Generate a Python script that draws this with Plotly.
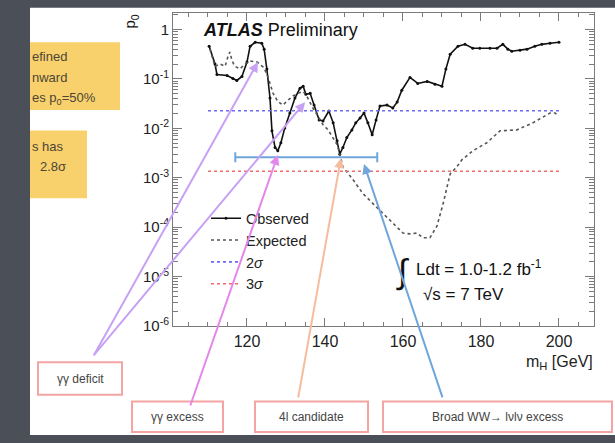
import plotly.graph_objects as go

W, H = 615, 443
FONT = "Liberation Sans, Arial, Helvetica, sans-serif"

# ---------------- data ----------------
OBS_MASS = [110.3, 111.8, 112.3, 114.9, 116.4, 117.4, 118.7, 120.0, 120.8, 122.1,
            123.8, 124.4, 125.1, 125.9, 126.4, 127.2, 127.9, 128.7, 129.7, 131.0,
            132.3, 133.6, 134.4, 135.1, 136.2, 137.2, 138.5, 139.5, 141.0, 142.1,
            143.1, 143.8, 144.6, 145.6, 146.9, 147.9, 149.0, 150.0, 151.0, 152.1,
            153.1, 154.1, 155.9, 157.4, 158.5, 159.7, 161.8, 163.8, 166.2, 168.2,
            170.0, 171.0, 172.1, 174.1, 175.9, 177.9, 179.7, 182.3, 184.1, 185.6,
            186.9, 187.9, 190.0, 191.8, 193.8, 195.6, 197.7, 200.0]
OBS_P0 = [0.457, 0.20, 0.123, 0.117, 0.102, 0.093, 0.112, 0.219, 0.457, 0.55,
          0.525, 0.40, 0.158, 0.041, 0.0089, 0.0041, 0.0035, 0.0051, 0.0102, 0.0204,
          0.041, 0.065, 0.071, 0.049, 0.051, 0.0295, 0.0148, 0.0141, 0.0224, 0.0129,
          0.0056, 0.0030, 0.0041, 0.0065, 0.0093, 0.0129, 0.0162, 0.0204, 0.0129, 0.0074,
          0.0148, 0.0282, 0.0295, 0.0257, 0.0339, 0.059, 0.107, 0.081, 0.089, 0.078,
          0.071, 0.158, 0.316, 0.457, 0.50, 0.417, 0.417, 0.417, 0.417, 0.50,
          0.40, 0.363, 0.38, 0.40, 0.457, 0.50, 0.525, 0.55]

EXP_MASS = [110.5, 111.8, 113.1, 114.4, 115.1, 115.6, 116.2, 116.9, 118.2, 119.5,
            120.8, 122.6, 124.1, 125.1, 125.9, 126.7, 127.9, 129.2, 130.5, 131.8,
            133.1, 134.4, 135.6, 136.9, 138.2, 139.5, 140.8, 142.1, 143.1, 143.8,
            144.6, 147.2, 149.7, 152.3, 154.9, 157.4, 160.0, 161.8, 163.6, 165.1,
            166.9, 168.7, 170.3, 172.1, 173.8, 175.1, 177.9, 181.5, 184.9, 189.2,
            193.3, 197.7, 199.0, 200.0]
EXP_P0 = [0.40, 0.18, 0.20, 0.18, 0.28, 0.35, 0.23, 0.18, 0.16, 0.20,
          0.23, 0.22, 0.175, 0.128, 0.081, 0.051, 0.035, 0.0295, 0.037, 0.045,
          0.051, 0.056, 0.041, 0.0257, 0.0178, 0.0118, 0.0093, 0.0065, 0.0047, 0.0030,
          0.00166, 0.00091, 0.00048, 0.00030, 0.00019, 0.00012, 7.6e-5, 7.3e-5, 7.6e-5, 6.1e-5,
          6.1e-5, 1.05e-4, 3.0e-4, 1.2e-3, 1.66e-3, 2.3e-3, 3.5e-3, 5.1e-3, 8.9e-3, 9.3e-3,
          0.0129, 0.0204, 0.0204, 0.0178]

SIGMA_MASS = [110, 200]
P0_2SIGMA = 0.02275
P0_3SIGMA = 0.00135

# broad WW mass window bracket (centre, half-width, p0 level)
WW_CENTER = [135.2]
WW_HALFWIDTH = [18.2]
WW_LEVEL = [0.0026]

X_TICKS = [120, 140, 160, 180, 200]
Y_TICKS = [1e-6, 1e-5, 1e-4, 1e-3, 1e-2, 1e-1, 1]
Y_TICK_TEXT = ["10<sup>-6</sup>", "10<sup>-5</sup>", "10<sup>-4</sup>", "10<sup>-3</sup>",
               "10<sup>-2</sup>", "10<sup>-1</sup>", "1"]
Y_MINOR = [k * 10.0 ** e for e in range(-6, 1) for k in range(2, 10) if k * 10.0 ** e < 2.2]

# call-out arrows: tip (mass, log10 p0), tail offset in pixels
ARROWS = [
    dict(m=122.8, lp=-0.66, ax=-165, ay=295, color="#c7a1f4"),   # γγ deficit
    dict(m=134.9, lp=-1.47, ax=-212, ay=254, color="#c7a1f4"),   # γγ deficit
    dict(m=127.9, lp=-2.54, ax=-88, ay=252, color="#e487ea"),    # γγ excess
    dict(m=144.1, lp=-2.60, ax=-43, ay=241, color="#f6bc9f"),    # 4l candidate
    dict(m=150.0, lp=-2.72, ax=79, ay=235, color="#6fa6dc"),     # broad WW
]


def px(x):
    return x / W


def py(y):
    return 1 - y / H


fig = go.Figure()

fig.add_trace(go.Scatter(x=OBS_MASS, y=OBS_P0, mode="lines+markers", name="Observed",
                         line=dict(color="#111111", width=1.6),
                         marker=dict(size=3, color="#111111")))
fig.add_trace(go.Scatter(x=EXP_MASS, y=EXP_P0, mode="lines", name="Expected",
                         line=dict(color="#555555", width=1.6, dash="dot")))
fig.add_trace(go.Scatter(x=SIGMA_MASS, y=[P0_2SIGMA] * 2, mode="lines", name="2<i>σ</i>",
                         line=dict(color="#6b6cf2", width=1.6, dash="dot")))
fig.add_trace(go.Scatter(x=SIGMA_MASS, y=[P0_3SIGMA] * 2, mode="lines", name="3<i>σ</i>",
                         line=dict(color="#f26b6b", width=1.6, dash="dot")))
fig.add_trace(go.Scatter(x=WW_CENTER, y=WW_LEVEL, mode="markers", showlegend=False,
                         marker=dict(size=1, color="rgba(0,0,0,0)"),
                         error_x=dict(type="data", array=WW_HALFWIDTH, color="#6fa6dc",
                                      thickness=2, width=5)))

shapes = [
    # white slide panel
    dict(type="rect", xref="paper", yref="paper", x0=px(30), x1=px(615), y0=py(443), y1=py(8),
         fillcolor="white", line=dict(width=0), layer="below"),
    # orange note boxes (cut by slide edge)
    dict(type="rect", xref="paper", yref="paper", x0=px(30), x1=px(120), y0=py(112), y1=py(43),
         fillcolor="#f8d16c", line=dict(width=0), layer="below"),
    dict(type="rect", xref="paper", yref="paper", x0=px(30), x1=px(87), y0=py(202), y1=py(133),
         fillcolor="#f8d16c", line=dict(width=0), layer="below"),
]
for x0, x1, y0, y1 in [(38, 122, 369, 402), (132, 223, 409, 440), (255, 368, 409, 440), (383, 612, 409, 440)]:
    shapes.append(dict(type="rect", xref="paper", yref="paper", x0=px(x0), x1=px(x1), y0=py(y1), y1=py(y0),
                       fillcolor="white", line=dict(color="#f5a4a4", width=2), layer="below"))

ann = []


def note(x, y, text, size=13, color="#333333", xanchor="left", **kw):
    ann.append(dict(x=px(x), y=py(y), xref="paper", yref="paper", text=text, showarrow=False,
                    xanchor=xanchor, yanchor="middle", font=dict(size=size, color=color, family=FONT), **kw))


# orange boxes text
note(30, 58, "efined", 13, "#4d4536")
note(30, 79, "nward", 13, "#4d4536")
note(30, 100, "es p<sub>0</sub>=50%", 13, "#4d4536")
note(30, 149, "s has", 13, "#4d4536")
note(38, 170, "2.8σ", 13, "#4d4536")

# plot texts
note(201, 31, "<b><i>ATLAS</i></b> Preliminary", 18, "#111111")
note(131, 22, "p<sub>0</sub>", 15, "#111111", xanchor="center", textangle=-90)
note(595, 369, "m<sub>H</sub> [GeV]", 16, "#222222", xanchor="right")
note(402, 277, "∫", 34, "#111111", xanchor="center")
note(414, 273, "Ldt = 1.0-1.2 fb<sup>-1</sup>", 17, "#111111")
note(421, 300, "√s = 7 TeV", 17, "#111111")

# box labels
note(80, 386, "γγ deficit", 12, "#444444", xanchor="center")
note(177, 425, "γγ excess", 12, "#444444", xanchor="center")
note(311, 425, "4l candidate", 12, "#444444", xanchor="center")
note(497, 425, "Broad WW→ lνlν excess", 12, "#444444", xanchor="center")

for a in ARROWS:
    ann.append(dict(x=a["m"], y=a["lp"], xref="x", yref="y", text="", showarrow=True,
                    ax=a["ax"], ay=a["ay"], arrowhead=2, arrowsize=1, arrowwidth=2,
                    arrowcolor=a["color"], standoff=0, startstandoff=0))

axis_common = dict(showline=True, linecolor="#7a7a7a", linewidth=1, mirror="ticks",
                   ticks="inside", tickcolor="#7a7a7a", showgrid=False, zeroline=False)

fig.update_layout(
    width=W, height=H, autosize=False,
    margin=dict(l=0, r=0, t=0, b=0, pad=0),
    paper_bgcolor="#4b4f58", plot_bgcolor="white",
    font=dict(family=FONT),
    showlegend=True,
    legend=dict(x=px(206), y=py(206), xanchor="left", yanchor="top", bgcolor="rgba(0,0,0,0)",
                borderwidth=0, font=dict(size=14.5, color="#222222", family=FONT),
                itemwidth=30, tracegroupgap=0),
    xaxis=dict(domain=[px(173), px(594)], range=[101.03, 208.98], tickmode="array",
               tickvals=X_TICKS, ticklen=8, ticklabelstandoff=1,
               tickfont=dict(size=16, color="#222222", family=FONT),
               minor=dict(dtick=5, tick0=0, ticks="inside", ticklen=4, tickcolor="#7a7a7a"),
               **axis_common),
    yaxis=dict(domain=[py(332), py(13)], type="log", range=[-6, 0.338], tickmode="array",
               tickvals=Y_TICKS, ticktext=Y_TICK_TEXT, ticklen=9,
               tickfont=dict(size=15, color="#222222", family=FONT),
               minor=dict(tickvals=Y_MINOR, ticks="inside", ticklen=5, tickcolor="#7a7a7a"),
               **axis_common),
    shapes=shapes,
    annotations=ann,
)

fig.write_html("out.html", config={"displayModeBar": False})
